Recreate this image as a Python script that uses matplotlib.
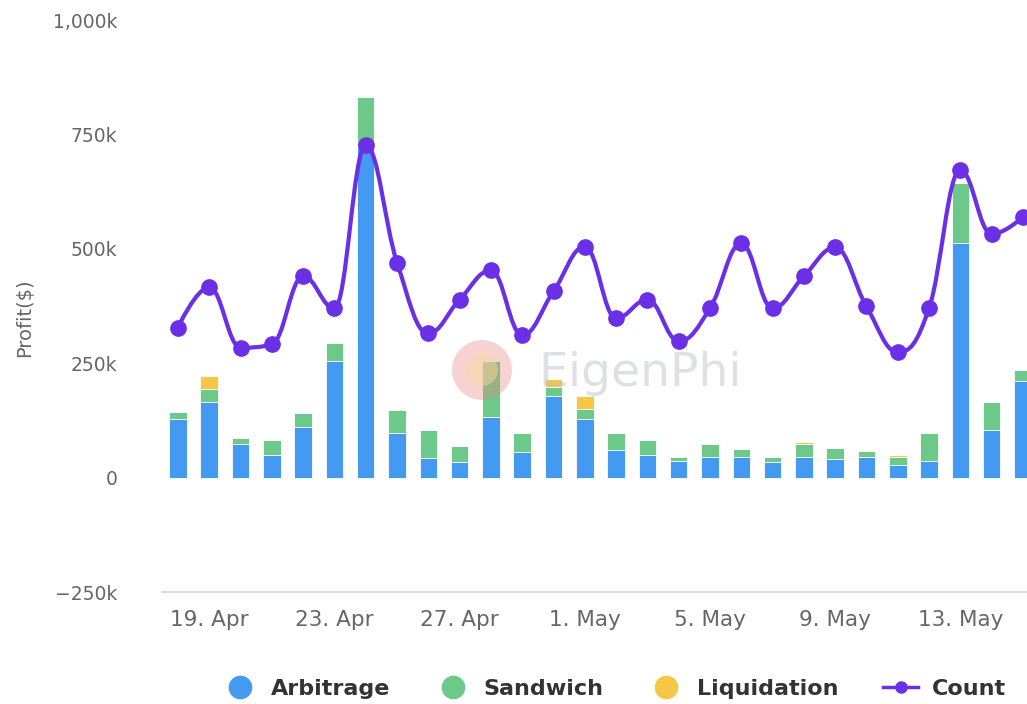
import datetime as dt
import matplotlib
matplotlib.use('Agg')
import matplotlib.pyplot as plt
import matplotlib.dates as mdates
from matplotlib.path import Path
from matplotlib.patches import PathPatch, Circle
from matplotlib.lines import Line2D
import numpy as np

# daily profit, in thousand $
start = dt.date(2022, 4, 18)
days = [start + dt.timedelta(days=i) for i in range(28)]
arbitrage = [129, 166, 74, 50, 110, 254, 722, 97, 42, 33, 133, 55, 179, 129,
             61, 50, 37, 45, 46, 33, 46, 41, 44, 28, 37, 512, 103, 212]
sandwich = [15, 27, 13, 33, 32, 41, 110, 50, 63, 35, 121, 42, 18, 22,
            36, 33, 9, 29, 17, 13, 28, 23, 15, 18, 60, 131, 63, 24]
liquidation = [0, 28, 0, 0, 0, 0, 0, 0, 0, 0, 0, 0, 19, 28,
               0, 0, 0, 0, 0, 0, 3, 0, 0, 4, 0, 0, 0, 0]
count = [3280, 4160, 2840, 2910, 4400, 3700, 7260, 4700, 3150, 3890, 4530, 3110, 4070, 5050,
         3480, 3890, 2980, 3700, 5120, 3700, 4400, 5030, 3740, 2740, 3700, 6720, 5320, 5690]
tick_days = [dt.date(2022, 4, 19) + dt.timedelta(days=4 * i) for i in range(7)]

c_arb = '#4499f0'
c_sand = '#6cc98a'
c_liq = '#f6c745'
c_count = '#6a2fe6'


def spline_path(xs, ys, smoothing=1.5):
    # highcharts-like spline through the points
    n = len(xs)
    verts = [(xs[0], ys[0])]
    codes = [Path.MOVETO]
    left = [None] * n
    right = [None] * n
    denom = smoothing + 1
    for i in range(1, n - 1):
        lx = (smoothing * xs[i] + xs[i - 1]) / denom
        ly = (smoothing * ys[i] + ys[i - 1]) / denom
        rx = (smoothing * xs[i] + xs[i + 1]) / denom
        ry = (smoothing * ys[i] + ys[i + 1]) / denom
        corr = (ry - ly) * (rx - xs[i]) / (rx - lx) + ys[i] - ry
        ly += corr
        ry += corr
        if ly > max(ys[i - 1], ys[i]):
            ly = max(ys[i - 1], ys[i]); ry = 2 * ys[i] - ly
        elif ly < min(ys[i - 1], ys[i]):
            ly = min(ys[i - 1], ys[i]); ry = 2 * ys[i] - ly
        if ry > max(ys[i + 1], ys[i]):
            ry = max(ys[i + 1], ys[i]); ly = 2 * ys[i] - ry
        elif ry < min(ys[i + 1], ys[i]):
            ry = min(ys[i + 1], ys[i]); ly = 2 * ys[i] - ry
        left[i] = (lx, ly)
        right[i] = (rx, ry)
    for i in range(1, n):
        c1 = right[i - 1] if right[i - 1] else (xs[i - 1], ys[i - 1])
        c2 = left[i] if left[i] else (xs[i], ys[i])
        verts += [c1, c2, (xs[i], ys[i])]
        codes += [Path.CURVE4] * 3
    return Path(verts, codes)


fig = plt.figure(figsize=(10.27, 7.04), dpi=100)
ax = fig.add_axes([162 / 1027, 112 / 704, 1 - 162 / 1027, 572 / 704])

x = mdates.date2num(days)
arb = np.array(arbitrage)
sand = np.array(sandwich)
liq = np.array(liquidation)
w = 0.56
ax.bar(x, arb, w, color=c_arb, edgecolor='white', linewidth=0.6, zorder=2)
ax.bar(x, sand, w, bottom=arb, color=c_sand, edgecolor='white', linewidth=0.6, zorder=2)
ax.bar(x, liq, w, bottom=arb + sand, color=c_liq, edgecolor='white', linewidth=0.6, zorder=2)

ax.set_ylim(-250, 1000)
ax.set_xlim(x[0] - 0.51, x[0] + 27.13)
ax.set_yticks([-250, 0, 250, 500, 750, 1000])
ax.set_yticklabels(['\u2212250k', '0', '250k', '500k', '750k', '1,000k'])
ax.set_xticks(mdates.date2num(tick_days))
ax.set_xticklabels([f'{d.day}. {d.strftime("%b")}' for d in tick_days])
ax.tick_params(axis='y', length=0, pad=32, labelsize=13.5, labelcolor='#666666')
ax.tick_params(axis='x', length=0, pad=13, labelsize=15.5, labelcolor='#666666')
for s in ['top', 'right', 'left']:
    ax.spines[s].set_visible(False)
ax.spines['bottom'].set_color('#ccd6eb')
ax.spines['bottom'].set_linewidth(1.2)
ax.set_ylabel('Profit($)', fontsize=14, color='#666666')
ax.yaxis.set_label_coords(-128 / 865, 0.48)

# count on hidden secondary axis
ax2 = ax.twinx()
ax2.set_ylim(-2500, 10000)
ax2.axis('off')
ax2.add_patch(PathPatch(spline_path(list(x), count), fill=False, edgecolor=c_count,
                        linewidth=3.0, zorder=4))
ax2.plot(x, count, 'o', color=c_count, markersize=11, zorder=5, clip_on=False)
ax2.set_xlim(ax.get_xlim())

# watermark
fig.patches.append(Circle((482, 704 - 370), 30, transform=None, facecolor='#e8827a',
                          alpha=0.35, edgecolor='none'))
fig.patches.append(Circle((482, 704 - 370), 16, transform=None, facecolor='#f7d9a0',
                          alpha=0.5, edgecolor='none'))
fig.text(640 / 1027, 1 - 373 / 704, 'EigenPhi', fontsize=34, color='#b9bcc8', alpha=0.45,
         ha='center', va='center', zorder=10)

handles = [
    Line2D([], [], marker='o', linestyle='none', color=c_arb, markersize=16),
    Line2D([], [], marker='o', linestyle='none', color=c_sand, markersize=16),
    Line2D([], [], marker='o', linestyle='none', color=c_liq, markersize=16),
    Line2D([], [], marker='o', color=c_count, markersize=8, linewidth=2.5),
]
fig.legend(handles, ['Arbitrage', 'Sandwich', 'Liquidation', 'Count'], loc='center',
           bbox_to_anchor=(614 / 1027, 15 / 704), ncol=4, frameon=False,
           prop={'size': 16, 'weight': 'bold'}, labelcolor='#333333',
           handlelength=1.6, handletextpad=0.6, columnspacing=2.0)

fig.savefig('out.png', dpi=100)
